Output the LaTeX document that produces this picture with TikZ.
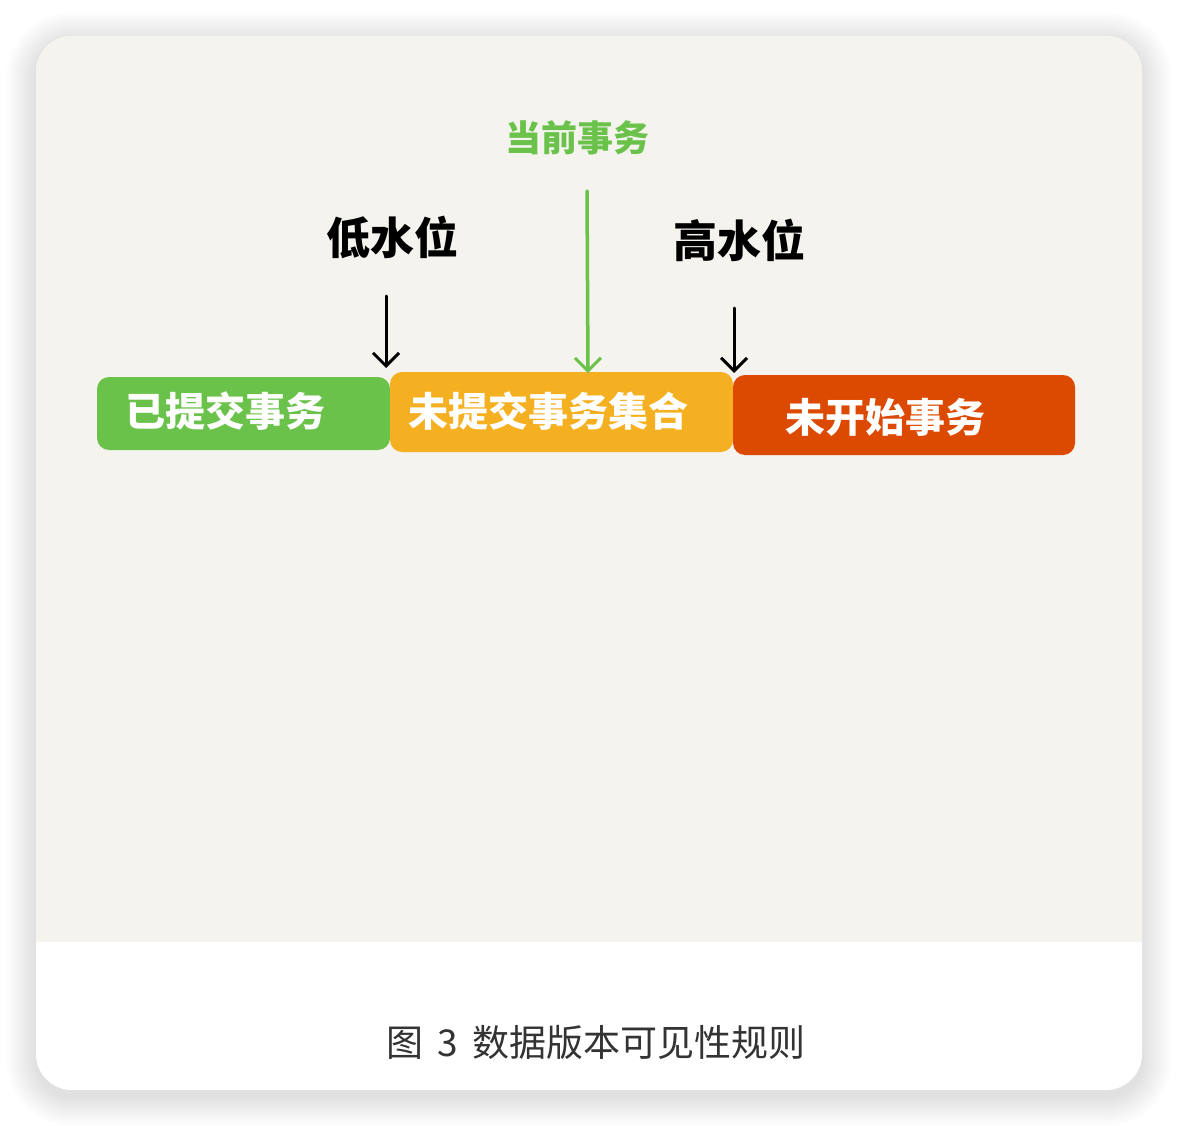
\documentclass[tikz,border=0pt]{standalone}
\usepackage{fontspec}
\newfontfamily\cjk{Noto Sans CJK SC}
\usetikzlibrary{arrows.meta}
\definecolor{bg}{HTML}{F4F3EE}
\definecolor{cgreen}{HTML}{6BC24B}
\definecolor{corange}{HTML}{F5B021}
\definecolor{cred}{HTML}{DC4A02}
\definecolor{captc}{HTML}{333333}
\tikzset{
  bar/.style={rounded corners=12pt, inner sep=0pt},
  boxtext/.style={text=white, font=\cjk\bfseries\fontsize{40}{48}\selectfont, inner sep=0pt},
  lbl/.style={text=black, font=\cjk\bfseries\fontsize{44}{52}\selectfont, inner sep=0pt},
  arr/.style={line width=3pt, line cap=round, -{Straight Barb[length=13pt,width=26pt,line width=3pt]}},
}
\begin{document}
\begin{tikzpicture}[x=1pt,y=-1pt]
\useasboundingbox (0,0) rectangle (1178,1126);
\fill[white] (0,0) rectangle (1178,1126);
% shadow
\foreach \e in {2,4,...,30}{
  \pgfmathsetmacro{\r}{36+\e}
  \fill[black,opacity=0.007,rounded corners=\r pt] (36-\e,42-\e) rectangle (1142+\e,1096+\e);
}
% card
\fill[white,rounded corners=36pt] (36,36) rectangle (1142,1090);
\begin{scope}
  \clip[rounded corners=36pt] (36,36) rectangle (1142,1090);
  \fill[bg] (36,36) rectangle (1142,942);
\end{scope}
% bars
\node[bar,fill=cgreen,minimum width=293pt,minimum height=73pt] (done) at (243.5,413.5) {};
\node[bar,fill=corange,minimum width=343pt,minimum height=80pt] (open) at (561.5,412) {};
\node[bar,fill=cred,minimum width=342pt,minimum height=80pt] (fut) at (904,415) {};
% bar texts
\node[boxtext] (tdone) at (225,411) {已提交事务};
\node[boxtext] (topen) at (548,411) {未提交事务集合};
\node[boxtext] (tfut) at (885,417) {未开始事务};
% labels
\node[lbl] (low) at (392,237) {低水位};
\node[lbl] (high) at (739,240) {高水位};
\node[lbl,text=cgreen,font=\cjk\bfseries\fontsize{36}{44}\selectfont] (cur) at (577,138) {当前事务};
% arrows
\coordinate (lw1) at (386,296);
\coordinate (lw2) at (386,368);
\coordinate (hw1) at (734,308);
\coordinate (hw2) at (734,373);
\coordinate (cw1) at (587,191);
\coordinate (cw2) at (588,373);
\draw[arr] (lw1) -- (lw2);
\draw[arr] (hw1) -- (hw2);
\draw[arr,cgreen,line width=3.5pt] (cw1) -- (cw2);
% caption
\node[text=captc,font=\cjk\fontsize{37}{44}\selectfont,inner sep=0pt] (cap) at (596,1042) {图\hspace{14pt}3\hspace{14pt}数据版本可见性规则};
\end{tikzpicture}
\end{document}
